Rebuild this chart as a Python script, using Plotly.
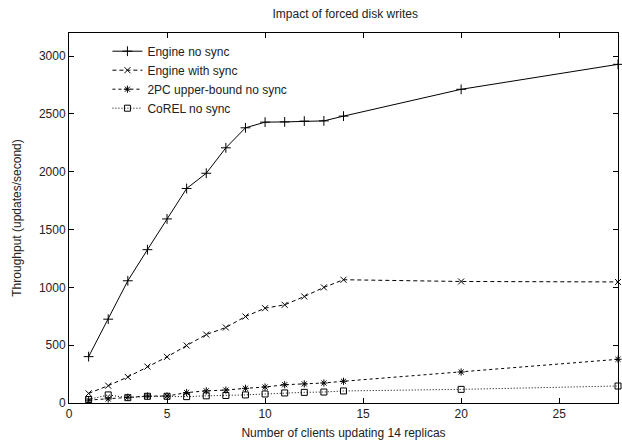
import plotly.graph_objects as go

clients = [1, 2, 3, 4, 5, 6, 7, 8, 9, 10, 11, 12, 13, 14, 20, 28]
engine_no_sync = [401, 725, 1057, 1326, 1592, 1855, 1987, 2207, 2380, 2429, 2431, 2438, 2440, 2481, 2713, 2929]
engine_with_sync = [83, 150, 225, 315, 399, 497, 592, 653, 748, 820, 849, 921, 1000, 1066, 1051, 1047]
twopc_no_sync = [25, 35, 50, 60, 60, 90, 105, 112, 127, 138, 158, 165, 173, 188, 268, 378]
corel_no_sync = [30, 70, 46, 58, 58, 55, 62, 65, 70, 78, 87, 92, 95, 104, 118, 147]

names = ["Engine no sync", "Engine with sync", "2PC upper-bound no sync", "CoREL no sync"]
series = [engine_no_sync, engine_with_sync, twopc_no_sync, corel_no_sync]
dashes = ["solid", "4px,3px", "3px,3px", "1px,2px"]
symbols = ["cross-thin", "x-thin", "asterisk", "square-open"]
sizes = [7, 6, 6, 6]

FONT = "Liberation Sans, Arial, Helvetica, sans-serif"

fig = go.Figure()
for name, ys, dash, sym, sz in zip(names, series, dashes, symbols, sizes):
    fig.add_trace(go.Scatter(
        x=clients, y=ys, name=name, mode="lines+markers",
        line=dict(color="black", width=1, dash=dash),
        marker=dict(symbol=sym, size=sz, color="black",
                    line=dict(color="black", width=1)),
        cliponaxis=False,
    ))

axis_common = dict(
    showline=True, linecolor="black", linewidth=1, mirror="allticks",
    ticks="inside", ticklen=5, tickcolor="black", tickwidth=1,
    showgrid=False, zeroline=False,
    tickfont=dict(family=FONT, size=12, color="#222"),
)

fig.update_xaxes(range=[0, 28], tickvals=[0, 5, 10, 15, 20, 25],
                 title=dict(text="Number of clients updating 14 replicas",
                            font=dict(family=FONT, size=12, color="#222"), standoff=8),
                 **axis_common)
fig.update_yaxes(range=[0, 3200], tickvals=[0, 500, 1000, 1500, 2000, 2500, 3000],
                 title=dict(text="Throughput (updates/second)",
                            font=dict(family=FONT, size=12, color="#222"), standoff=14),
                 **axis_common)

fig.update_layout(
    width=622, height=442,
    margin=dict(l=69, r=4, t=33, b=39),
    paper_bgcolor="white", plot_bgcolor="white",
    title=dict(text="Impact of forced disk writes", x=0.555, xanchor="center",
               y=1 - 14 / 442, yanchor="middle", yref="container",
               font=dict(family=FONT, size=12, color="#222")),
    legend=dict(x=0.07, y=0.99, xanchor="left", yanchor="top",
                bgcolor="rgba(0,0,0,0)", font=dict(family=FONT, size=12, color="#222"),
                tracegroupgap=0, itemwidth=30),
    showlegend=True,
)

fig.write_html("out.html")
